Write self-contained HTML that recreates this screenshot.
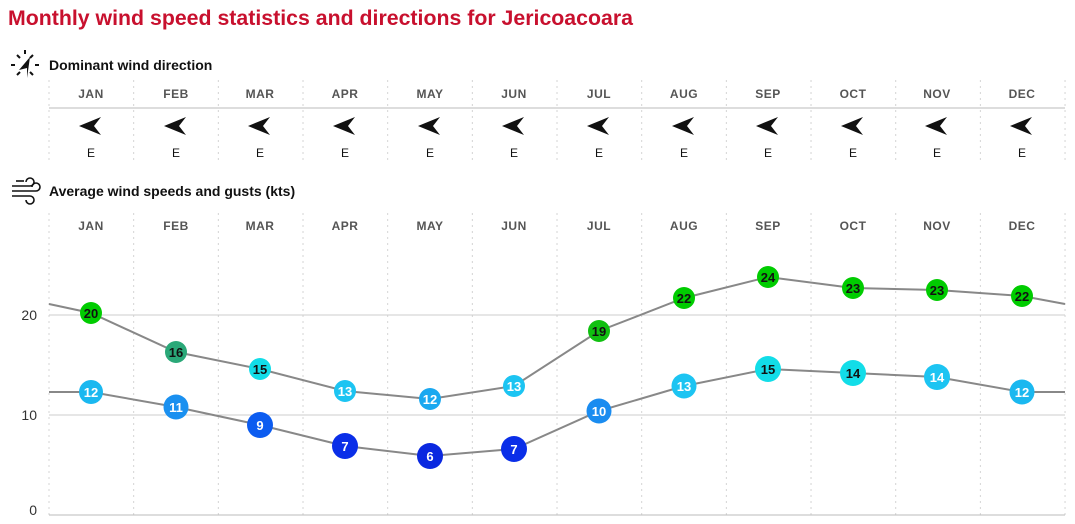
<!DOCTYPE html>
<html><head><meta charset="utf-8"><style>
body{margin:0;background:#fff;}
svg{display:block;font-family:"Liberation Sans",sans-serif;}
</style></head><body>
<svg width="1075" height="524" viewBox="0 0 1075 524">
<text x="8" y="25" font-size="21" font-weight="bold" fill="#c8102e" textLength="625" lengthAdjust="spacingAndGlyphs">Monthly wind speed statistics and directions for Jericoacoara</text>
<g stroke="#111" stroke-width="2">
<line x1="25" y1="50" x2="25" y2="54"/><line x1="17" y1="55" x2="20" y2="58"/><line x1="33" y1="55" x2="30" y2="58"/>
<line x1="11" y1="65" x2="15" y2="65"/><line x1="35" y1="65" x2="39" y2="65"/>
<line x1="17" y1="75" x2="20" y2="72"/><line x1="33" y1="75" x2="30" y2="72"/>
</g>
<path d="M30 57 L19 70 L27 68 L27 78 Z" fill="#111"/>
<text x="49" y="70" font-size="14" font-weight="bold" fill="#111">Dominant wind direction</text>
<g stroke="#111" stroke-width="1.6" fill="none">
<path d="M12 186 H30 a4 4 0 1 0 -4 -4"/><path d="M12 191 H36 a4 4 0 1 0 -4 -4"/><path d="M12 196 H30 a4 4 0 1 1 -4 4"/><line x1="16" y1="181" x2="24" y2="181"/>
</g>
<text x="49" y="196" font-size="14" font-weight="bold" fill="#111">Average wind speeds and gusts (kts)</text>
<g id="grid" stroke="#d4d4d4" stroke-width="1" stroke-dasharray="2,4">
</g>
<line x1="49" y1="108" x2="1065" y2="108" stroke="#bbb"/>
<line x1="49" y1="315" x2="1065" y2="315" stroke="#ccc"/>
<line x1="49" y1="415" x2="1065" y2="415" stroke="#ccc"/>
<line x1="49" y1="515" x2="1065" y2="515" stroke="#bbb"/>
<g font-size="14" fill="#333" text-anchor="end">
<text x="37" y="320">20</text><text x="37" y="420">10</text><text x="37" y="515">0</text>
</g>
<g id="cols"></g>
<polyline fill="none" stroke="#888" stroke-width="2" points="49,304 91,313 176,352 260,369 345,391 430,399 514,386 599,331 684,298 768,277 853,288 937,290 1022,296 1065,304"/>
<polyline fill="none" stroke="#888" stroke-width="2" points="49,392 91,392 176,407 260,425 345,446 430,456 514,449 599,411 684,386 768,369 853,373 937,377 1022,392 1065,392"/>
<g id="pts" font-weight="bold" font-size="13" text-anchor="middle"></g>
</svg>
<script>
var ns="http://www.w3.org/2000/svg";
var m=["JAN","FEB","MAR","APR","MAY","JUN","JUL","AUG","SEP","OCT","NOV","DEC"];
var cx=[91,176,260,345,430,514,599,684,768,853,937,1022];
function el(t,a,p,txt){var e=document.createElementNS(ns,t);for(var k in a)e.setAttribute(k,a[k]);if(txt!=null)e.textContent=txt;p.appendChild(e);return e;}
var g=document.getElementById("grid"),c=document.getElementById("cols");
for(var i=0;i<=12;i++){var x=49+i*84.67;el("line",{x1:x,y1:80,x2:x,y2:160},g);el("line",{x1:x,y1:213,x2:x,y2:515},g);}
for(i=0;i<12;i++){
 el("text",{x:cx[i],y:98,"font-size":12,"font-weight":"bold",fill:"#555","text-anchor":"middle","letter-spacing":"0.5"},c,m[i]);
 el("text",{x:cx[i],y:230,"font-size":12,"font-weight":"bold",fill:"#555","text-anchor":"middle","letter-spacing":"0.5"},c,m[i]);
 el("text",{x:cx[i],y:157,"font-size":12,fill:"#111","text-anchor":"middle"},c,"E");
 var x=cx[i];
 el("path",{d:"M"+(x-12)+" 126 L"+(x+10)+" 117 L"+(x+3)+" 126 L"+(x+10)+" 135 Z",fill:"#111"},c);
}
var p=document.getElementById("pts");
var gu=[[313,20,"#0c0"],[352,16,"#2aa878"],[369,15,"#12dde8"],[391,13,"#1cc4f2"],[399,12,"#1aa8f0"],[386,13,"#1cc4f2"],[331,19,"#10c010"],[298,22,"#0c0"],[277,24,"#0c0"],[288,23,"#0c0"],[290,23,"#0c0"],[296,22,"#0c0"]];
var sp=[[392,12,"#1ab8f0",12],[407,11,"#1a90f0",12.5],[425,9,"#0c5cf0",13],[446,7,"#0a2ee8",13],[456,6,"#0a28e0",13],[449,7,"#0a2ee8",13],[411,10,"#1a8cf0",12.5],[386,13,"#1cc4f2",12.5],[369,15,"#12dde8",13],[373,14,"#12dde8",13],[377,14,"#1cc4f2",13],[392,12,"#1ab8f0",12.5]];
for(i=0;i<12;i++){
 var a=gu[i];el("circle",{cx:cx[i],cy:a[0],r:11,fill:a[2]},p);
 el("text",{x:cx[i],y:a[0]+5,fill:(a[1]==13||a[1]==12)?"#fff":"#111"},p,a[1]);
 var b=sp[i];el("circle",{cx:cx[i],cy:b[0],r:b[3],fill:b[2]},p);
 el("text",{x:cx[i],y:b[0]+5,fill:(i==8||i==9)?"#111":"#fff"},p,b[1]);
}
</script>
</body></html>
